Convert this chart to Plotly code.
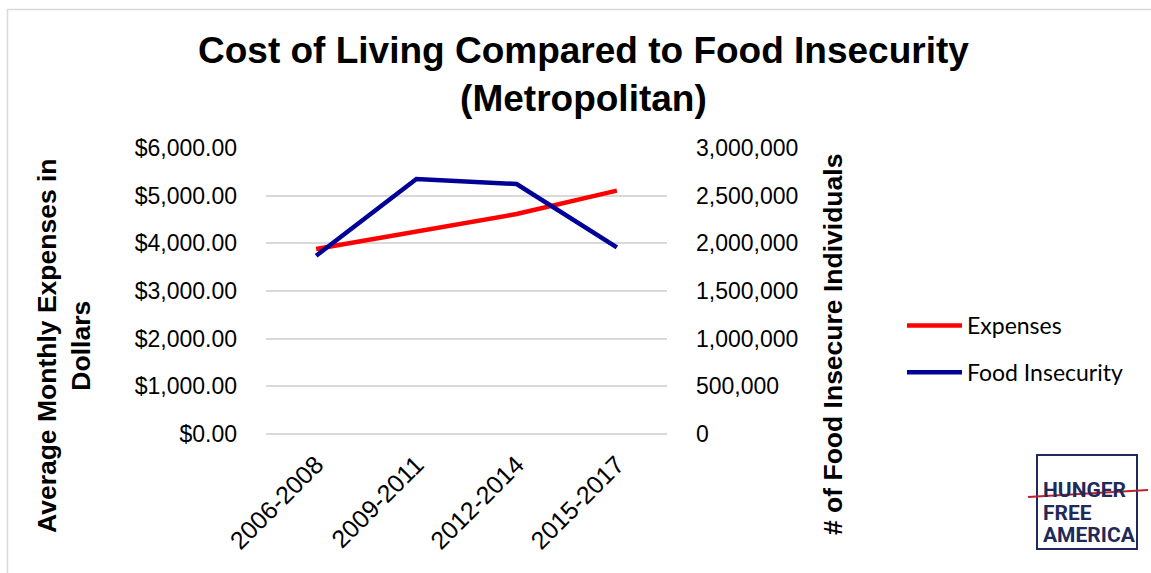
import plotly.graph_objects as go

periods = ["2006-2008", "2009-2011", "2012-2014", "2015-2017"]
expenses = [3880, 4245, 4615, 5105]
food_insecure = [1870000, 2675000, 2622000, 1958000]

L, R, T, B = 266, 667, 148, 434
W, H = 1151, 573


def px(X):
    return (X - L) / (R - L)


def py(Y):
    return (B - Y) / (B - T)


fig = go.Figure()
fig.add_trace(go.Scatter(x=periods, y=expenses, name="Expenses", mode="lines",
                         legendgroup="a",
                         line=dict(color="#FF0000", width=4.5), yaxis="y"))
fig.add_trace(go.Scatter(x=periods, y=food_insecure, name="Food Insecurity", mode="lines",
                         legendgroup="b",
                         line=dict(color="#000099", width=4.5), yaxis="y2"))

tickfont = dict(family="Liberation Sans, Arial", size=23, color="#000000")
xtickfont = dict(family="Liberation Sans, Arial", size=25, color="#000000")

fig.update_layout(
    width=W, height=H,
    margin=dict(l=L, r=W - R, t=T, b=H - B, autoexpand=False),
    paper_bgcolor="white", plot_bgcolor="white",
    showlegend=True,
    legend=dict(x=px(902), y=py(304), xanchor="left", yanchor="top",
                font=dict(family="Lato, Carlito, Calibri", size=23, color="#000000"),
                traceorder="grouped", tracegroupgap=14, itemwidth=55,
                bgcolor="rgba(0,0,0,0)"),
    xaxis=dict(type="category", range=[-0.5, 3.5], tickangle=-45, tickfont=xtickfont,
               showgrid=False, showline=False, ticks="", ticklabelstandoff=10),
    yaxis=dict(range=[0, 6000], dtick=1000, tickformat="$,.2f", tickfont=tickfont,
               showgrid=True, gridcolor="#d9d9d9", gridwidth=1.5,
               zeroline=True, zerolinecolor="#d9d9d9", zerolinewidth=1.5,
               showline=False, ticks="", ticklabelstandoff=28),
    yaxis2=dict(range=[0, 3000000], dtick=500000, tickformat=",", tickfont=tickfont,
                overlaying="y", side="right", showgrid=False, zeroline=False,
                showline=False, ticks="", ticklabelstandoff=28),
)

annotations = [
    dict(text="<b>Cost of Living Compared to Food Insecurity<br>(Metropolitan)</b>",
         x=px(583), y=py(74), xref="paper", yref="paper", showarrow=False,
         xanchor="center", yanchor="middle", align="center",
         font=dict(family="Liberation Sans, Arial", size=37, color="#000000")),
    dict(text="<b>Average Monthly Expenses in<br>Dollars</b>",
         x=px(64), y=py(345), xref="paper", yref="paper", showarrow=False,
         xanchor="center", yanchor="middle", align="center", textangle=-90,
         font=dict(family="Liberation Sans, Arial", size=26.5, color="#000000")),
    dict(text="<b># of Food Insecure Individuals</b>",
         x=px(833), y=py(345), xref="paper", yref="paper", showarrow=False,
         xanchor="center", yanchor="middle", align="center", textangle=-90,
         font=dict(family="Liberation Sans, Arial", size=26.5, color="#000000")),
]
logo_font = dict(family="Roboto, Liberation Sans", size=21, color="#1f2a5a")
for word, Y in [("<b>HUNGER</b>", 490), ("<b>FREE</b>", 513), ("<b>AMERICA</b>", 535)]:
    annotations.append(dict(text=word, x=px(1041), y=py(Y), xref="paper", yref="paper",
                            showarrow=False, xanchor="left", yanchor="middle",
                            font=logo_font))
fig.update_layout(annotations=annotations)

fig.update_layout(shapes=[
    dict(type="rect", xref="paper", yref="paper", x0=px(7.5), x1=px(1200), y0=py(9.5), y1=py(620),
         line=dict(color="#d9d9d9", width=1.5), fillcolor="rgba(0,0,0,0)", layer="below"),
    dict(type="rect", xref="paper", yref="paper", x0=px(1037), x1=px(1137), y0=py(455), y1=py(549),
         line=dict(color="#1f2a5a", width=2), fillcolor="rgba(0,0,0,0)"),
    dict(type="line", xref="paper", yref="paper", x0=px(1028), x1=px(1148), y0=py(497), y1=py(490),
         line=dict(color="#c0202a", width=2)),
])

fig.write_html("out.html")
